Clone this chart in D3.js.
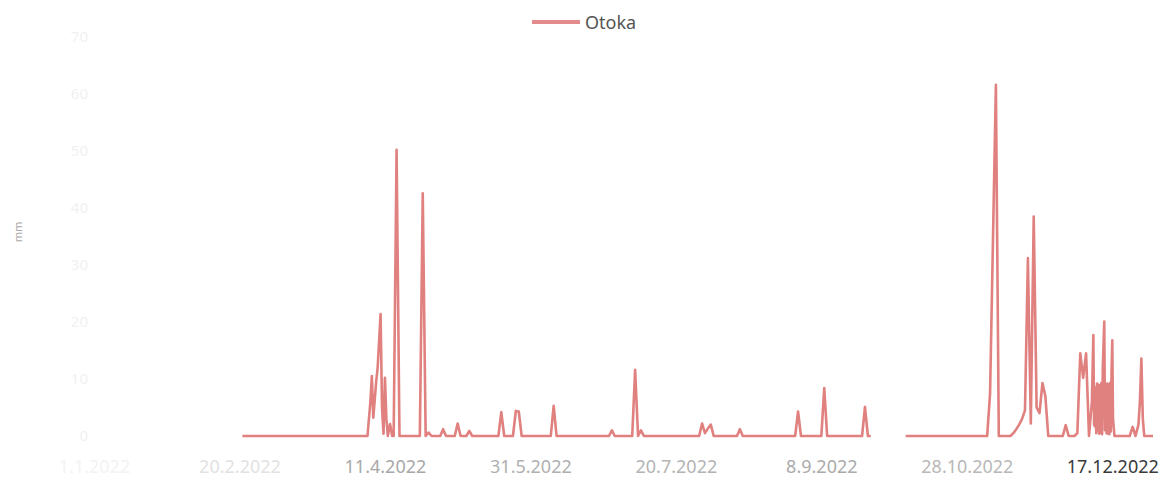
<!DOCTYPE html>
<html>
<head>
<meta charset="utf-8">
<script src="https://cdn.jsdelivr.net/npm/d3@7"></script>
<style>
  html, body { margin: 0; padding: 0; background: #ffffff; }
  svg { display: block; }
</style>
</head>
<body>
<svg id="chart" width="1167" height="479"></svg>
<script>
// ---------------- data ----------------
const seriesName = "Otoka";
const xTickLabels = ["1.1.2022", "20.2.2022", "11.4.2022", "31.5.2022", "20.7.2022", "8.9.2022", "28.10.2022", "17.12.2022"];
const yTickValues = [0, 10, 20, 30, 40, 50, 60, 70];
const dates = [
  "2022-02-21", "2022-04-05", "2022-04-06", "2022-04-06 12", "2022-04-07", "2022-04-08", "2022-04-08 12",
  "2022-04-09 12", "2022-04-10", "2022-04-10 12", "2022-04-11", "2022-04-11 12", "2022-04-12", "2022-04-12 18",
  "2022-04-13 12", "2022-04-14", "2022-04-15", "2022-04-16",
  "2022-04-23", "2022-04-24", "2022-04-25", "2022-04-26", "2022-04-27",
  "2022-04-30", "2022-05-01", "2022-05-02", "2022-05-05", "2022-05-06", "2022-05-07",
  "2022-05-09", "2022-05-10", "2022-05-11", "2022-05-20", "2022-05-21", "2022-05-22",
  "2022-05-25", "2022-05-26", "2022-05-27", "2022-05-28", "2022-06-07", "2022-06-08", "2022-06-09",
  "2022-06-27", "2022-06-28", "2022-06-29", "2022-07-05", "2022-07-06", "2022-07-07", "2022-07-08", "2022-07-09",
  "2022-07-28", "2022-07-29", "2022-07-30", "2022-07-31", "2022-08-01", "2022-08-02",
  "2022-08-10", "2022-08-11", "2022-08-12", "2022-08-30", "2022-08-31", "2022-09-01",
  "2022-09-08", "2022-09-09", "2022-09-10", "2022-09-22", "2022-09-23", "2022-09-24", "2022-09-25",
  "2022-10-01",
  "2022-10-07", "2022-11-04", "2022-11-05", "2022-11-07", "2022-11-08",
  "2022-11-12", "2022-11-13", "2022-11-14", "2022-11-15", "2022-11-16", "2022-11-17", "2022-11-18",
  "2022-11-19", "2022-11-20", "2022-11-21", "2022-11-22", "2022-11-23", "2022-11-24", "2022-11-25",
  "2022-11-30", "2022-12-01", "2022-12-02",
  "2022-12-04", "2022-12-05", "2022-12-06", "2022-12-07", "2022-12-08", "2022-12-09",
  "2022-12-10", "2022-12-10 12", "2022-12-10 18", "2022-12-11", "2022-12-11 06", "2022-12-11 12", "2022-12-11 18",
  "2022-12-12", "2022-12-12 06", "2022-12-12 12", "2022-12-12 18", "2022-12-13", "2022-12-13 06", "2022-12-13 12",
  "2022-12-13 18", "2022-12-14 06", "2022-12-14 12", "2022-12-14 18", "2022-12-15", "2022-12-15 06", "2022-12-15 12",
  "2022-12-15 18", "2022-12-16", "2022-12-16 06", "2022-12-16 12", "2022-12-16 18", "2022-12-17", "2022-12-17 06",
  "2022-12-17 18", "2022-12-23", "2022-12-24", "2022-12-25", "2022-12-26", "2022-12-26 12", "2022-12-27",
  "2022-12-27 12", "2022-12-28", "2022-12-31"
];
const values = [
  0, 0, 6, 10.5, 3.2, 9.6, 12,
  21.4, 5, 0.4, 10.2, 3, 0, 2.1,
  0, 0, 50.2, 0,
  0, 42.6, 0, 0.6, 0,
  0, 1.2, 0, 0, 2.2, 0,
  0, 0.9, 0, 0, 4.2, 0,
  0, 4.4, 4.3, 0, 0, 5.3, 0,
  0, 1.0, 0, 0, 11.6, 0, 1.0, 0,
  0, 2.2, 0.5, 1.3, 2.0, 0,
  0, 1.2, 0, 0, 4.3, 0,
  0, 8.4, 0, 0, 5.1, 0, 0,
  null,
  0, 0, 7.5, 61.6, 0,
  0, 0.5, 1.2, 2.0, 3.0, 4.5, 31.2,
  2.2, 38.5, 5.0, 4.0, 9.3, 7.0, 0,
  0, 1.9, 0,
  0, 0.5, 14.5, 10.2, 14.5, 0,
  6, 17.7, 2, 1.7, 8.5, 0.5, 9.2,
  1, 9, 0.4, 8.8, 0.6, 9.3, 0.3,
  12, 20.1, 1, 9, 0.5, 9.2, 0.4,
  9, 0.3, 9.3, 0.8, 11, 16.8, 3,
  0, 0, 1.6, 0, 2, 6, 13.6,
  3, 0, 0
];

// ---------------- drawing ----------------
const svg = d3.select("#chart");
const parseDay = d3.timeParse("%Y-%m-%d");
const parseHour = d3.timeParse("%Y-%m-%d %H");
const parseTick = d3.timeParse("%d.%m.%Y");
const toDate = s => s.length > 10 ? parseHour(s) : parseDay(s);

const points = dates.map((d, i) => ({ date: toDate(d), value: values[i] }));

const x = d3.scaleTime()
  .domain([parseDay("2022-01-01"), parseDay("2022-12-31")])
  .range([94, 1153]);
const y = d3.scaleLinear()
  .domain([0, 70])
  .range([436, 37]);

const lineColor = "#e0807f";

// y axis (very faint, like the scan)
const yAxis = svg.append("g")
  .attr("transform", "translate(92,0)")
  .call(d3.axisLeft(y).tickValues(yTickValues).tickSize(0).tickPadding(4));
yAxis.select(".domain").remove();
yAxis.selectAll("text")
  .attr("fill", "#f1f1f1")
  .style("font-family", "'Noto Sans', sans-serif")
  .style("font-size", "15px");

// y title (faint)
svg.append("text")
  .attr("transform", "translate(22,232) rotate(-90)")
  .attr("text-anchor", "middle")
  .attr("fill", "#a8a8a8")
  .style("font-family", "'Noto Sans', sans-serif")
  .style("font-size", "11px")
  .text("mm");

// x axis
const tickDates = xTickLabels.map(parseTick);
const xAxis = svg.append("g")
  .attr("transform", "translate(0,455)")
  .call(d3.axisBottom(x).tickValues(tickDates).tickSize(0).tickPadding(4)
    .tickFormat((d, i) => xTickLabels[i]));
xAxis.select(".domain").remove();
const xShades = ["#f3f3f3", "#e2e2e2", "#a8a8a8", "#b0b0b0", "#b4b4b4", "#ababab", "#b8b8b8", "#3a3a3a"];
xAxis.selectAll("text")
  .attr("fill", (d, i) => xShades[i])
  .attr("dy", "0.75em")
  .style("font-family", "'Noto Sans', sans-serif")
  .style("font-size", "18px");

// line
const line = d3.line()
  .defined(d => d.value != null)
  .x(d => x(d.date))
  .y(d => y(d.value));

svg.append("path")
  .datum(points)
  .attr("fill", "none")
  .attr("stroke", lineColor)
  .attr("stroke-width", 2.6)
  .attr("stroke-linejoin", "round")
  .attr("d", line);

// legend
const lg = svg.append("g");
lg.append("line")
  .attr("x1", 532).attr("x2", 580)
  .attr("y1", 22).attr("y2", 22)
  .attr("stroke", "#e38b8c")
  .attr("stroke-width", 4);
lg.append("text")
  .attr("x", 585).attr("y", 28.5)
  .attr("fill", "#555555")
  .style("font-family", "'Noto Sans', sans-serif")
  .style("font-size", "18px")
  .text(seriesName);
</script>
</body>
</html>
